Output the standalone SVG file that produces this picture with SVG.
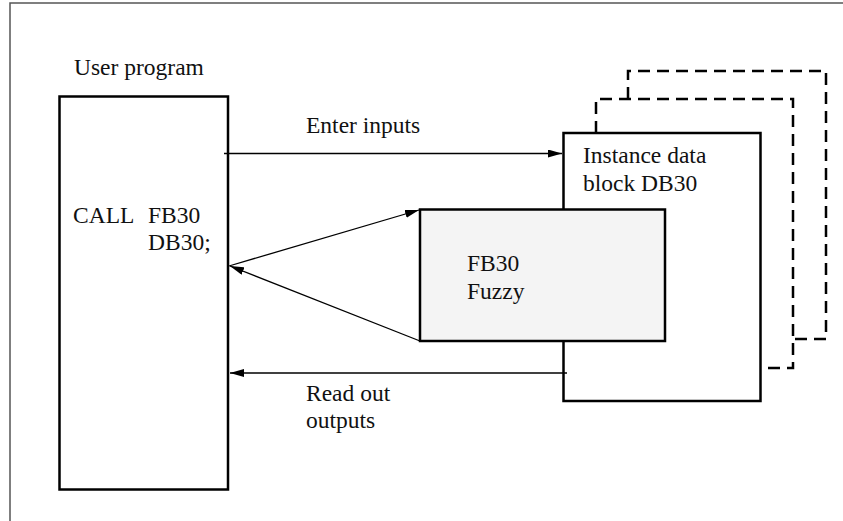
<svg xmlns="http://www.w3.org/2000/svg" width="843" height="521" viewBox="0 0 843 521">
<defs>
<marker id="ah" markerWidth="14" markerHeight="8" refX="14" refY="4" orient="auto" markerUnits="userSpaceOnUse">
<path d="M0,0 L14,4 L0,8 Z" fill="#000"/>
</marker>
<style>
.box{fill:#fff;stroke:#000;stroke-width:2.5}
.dash{fill:none;stroke:#000;stroke-width:2.5;stroke-dasharray:12 7}
.conn{fill:none;stroke:#000;stroke-width:1.3}
.t{font-family:'Liberation Serif','Times New Roman',serif;font-size:23.5px;fill:#111}
</style>
</defs>
<rect width="843" height="521" fill="#fff"/>
<path d="M10,521 V3 H843" fill="none" stroke="#555" stroke-width="1.5"/>
<g id="user-program">
<text class="t" x="74" y="75">User program</text>
<rect class="box" x="59.5" y="96.5" width="168.5" height="393"/>
<text class="t" x="73" y="223">CALL</text>
<text class="t" x="148" y="223">FB30</text>
<text class="t" x="148" y="250">DB30;</text>
</g>
<g id="instance-copies">
<path class="dash" d="M628,99 V71 H826 V339 H793"/>
<path class="dash" d="M596,133 V99 H793 V368 H761"/>
</g>
<g id="instance-db">
<rect class="box" x="563.5" y="133" width="197" height="268"/>
<text class="t" x="583" y="163">Instance data</text>
<text class="t" x="583" y="191">block DB30</text>
</g>
<g id="fb30">
<rect x="420" y="209.5" width="245" height="131.5" fill="#f4f4f4" stroke="#000" stroke-width="2.5"/>
<text class="t" x="467" y="271">FB30</text>
<text class="t" x="467" y="299">Fuzzy</text>
</g>
<g id="connectors">
<line class="conn" x1="224" y1="153.5" x2="562" y2="153.5" marker-end="url(#ah)"/>
<line class="conn" x1="229" y1="266" x2="419" y2="210" marker-end="url(#ah)"/>
<line class="conn" x1="420" y1="341" x2="230" y2="266" marker-end="url(#ah)"/>
<line class="conn" x1="567" y1="373" x2="230" y2="373" marker-end="url(#ah)"/>
</g>
<g id="labels">
<text class="t" x="306" y="133">Enter inputs</text>
<text class="t" x="306" y="401">Read out</text>
<text class="t" x="306" y="428">outputs</text>
</g>
</svg>
